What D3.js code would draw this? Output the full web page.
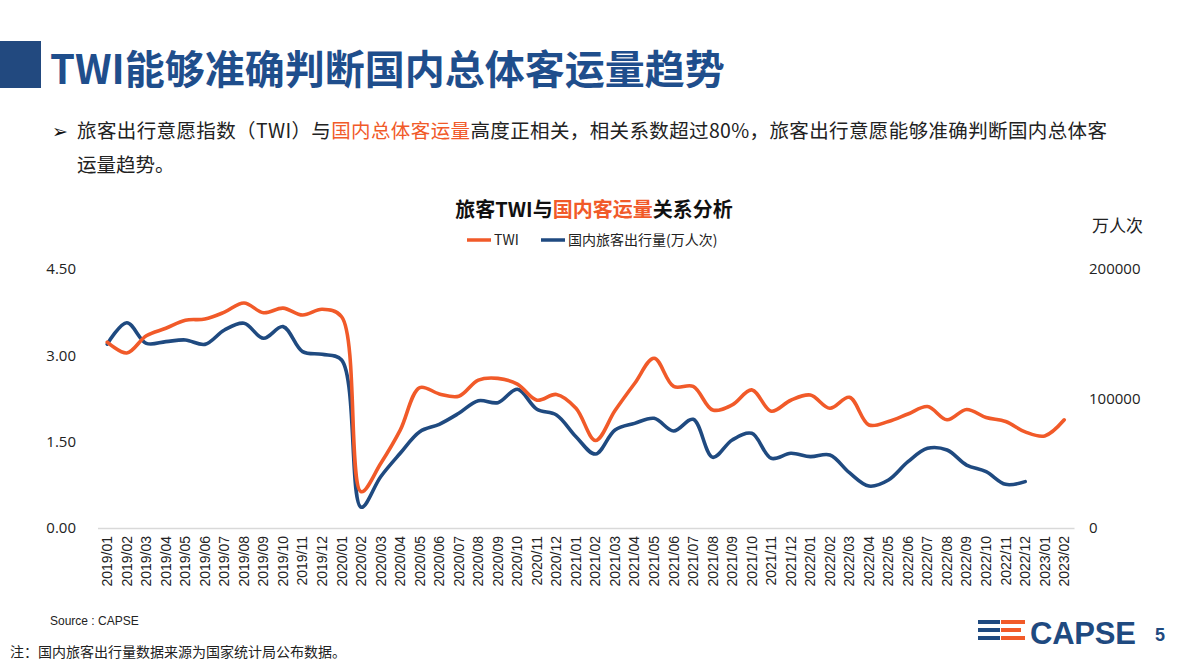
<!DOCTYPE html>
<html><head><meta charset="utf-8">
<script src="https://cdn.jsdelivr.net/npm/d3@7"></script>
<style>
html,body{margin:0;padding:0;background:#fff;}
svg{display:block;font-family:"Noto Sans","Noto Sans CJK SC",sans-serif;}
</style></head>
<body>
<svg id="c" width="1190" height="669"></svg>
<script>
const months = ["2019/01","2019/02","2019/03","2019/04","2019/05","2019/06","2019/07","2019/08","2019/09","2019/10","2019/11","2019/12",
"2020/01","2020/02","2020/03","2020/04","2020/05","2020/06","2020/07","2020/08","2020/09","2020/10","2020/11","2020/12",
"2021/01","2021/02","2021/03","2021/04","2021/05","2021/06","2021/07","2021/08","2021/09","2021/10","2021/11","2021/12",
"2022/01","2022/02","2022/03","2022/04","2022/05","2022/06","2022/07","2022/08","2022/09","2022/10","2022/11","2022/12",
"2023/01","2023/02"];
const twi = [3.23,3.04,3.34,3.47,3.61,3.63,3.75,3.91,3.74,3.82,3.70,3.80,
3.67,0.63,1.12,1.70,2.44,2.33,2.29,2.57,2.60,2.50,2.22,2.32,
2.08,1.52,2.04,2.51,2.95,2.46,2.46,2.05,2.14,2.40,2.03,2.22,
2.31,2.08,2.27,1.79,1.85,1.98,2.11,1.88,2.06,1.92,1.85,1.67,
1.60,1.88];
const passengers = [142000,158500,142600,143900,145200,141800,152900,158100,146500,155500,136200,134100,
129700,16000,39600,57700,74400,80100,88600,98300,96800,107100,91700,87300,
70500,57100,75700,80800,84700,74900,83900,54600,68000,73100,53800,57700,
55100,56400,42700,32400,37100,51200,61500,60200,48600,43500,33700,35800,
null,null];
const leftTicks = [0,1.5,3,4.5];
const rightTicks = [0,100000,200000];
const seriesNames = ["TWI","国内旅客出行量(万人次)"];

const ORANGE = "#F15A29", BLUE = "#1F4A80", TITLEBLUE = "#1F4E8C";
const svg = d3.select("#c");
const cjk = '"Noto Sans CJK SC","Noto Sans",sans-serif';

// header block
svg.append("rect").attr("x",0).attr("y",41).attr("width",41).attr("height",47).attr("fill","#22497F");
svg.append("text").attr("x",50).attr("y",84).attr("font-size",40).attr("font-weight",700)
  .attr("fill",TITLEBLUE).style("font-family",cjk).text("TWI能够准确判断国内总体客运量趋势");

// bullet text
svg.append("text").attr("x",52).attr("y",138).attr("font-size",19).attr("fill","#111").text("➢");
const t1 = svg.append("text").attr("x",77).attr("y",138).attr("font-size",19.5).attr("fill","#222").style("font-family",cjk).attr("textLength",1030).attr("lengthAdjust","spacing");
t1.append("tspan").text("旅客出行意愿指数（TWI）与");
t1.append("tspan").attr("fill",ORANGE).text("国内总体客运量");
t1.append("tspan").text("高度正相关，相关系数超过80%，旅客出行意愿能够准确判断国内总体客");
svg.append("text").attr("x",77).attr("y",172).attr("font-size",19.5).attr("fill","#222").style("font-family",cjk).text("运量趋势。");

// chart title
const ct = svg.append("text").attr("x",594).attr("y",217).attr("text-anchor","middle").attr("font-size",20)
  .attr("font-weight",700).attr("fill","#111").style("font-family",cjk);
ct.append("tspan").text("旅客TWI与");
ct.append("tspan").attr("fill",ORANGE).text("国内客运量");
ct.append("tspan").text("关系分析");

// legend
const lg = svg.append("g").style("font-family",cjk).attr("font-size",14).attr("fill","#222");
lg.append("line").attr("x1",467).attr("x2",491).attr("y1",240).attr("y2",240).attr("stroke",ORANGE).attr("stroke-width",3.5);
lg.append("text").attr("x",494).attr("y",245).text(seriesNames[0]);
lg.append("line").attr("x1",541).attr("x2",565).attr("y1",240).attr("y2",240).attr("stroke",BLUE).attr("stroke-width",3.5);
lg.append("text").attr("x",568).attr("y",245).text(seriesNames[1]);

svg.append("text").attr("x",1092).attr("y",232).attr("font-size",17).attr("fill","#222").style("font-family",cjk).text("万人次");

// scales
const x = d3.scaleBand().domain(months).range([97.5,1074]);
const yL = d3.scaleLinear().domain([0,4.5]).range([528,269]);
const yR = d3.scaleLinear().domain([0,200000]).range([528,269]);
const cx = d => x(d) + x.bandwidth()/2;

// axes
const axL = svg.append("g").attr("transform","translate(97,0)")
  .call(d3.axisLeft(yL).tickValues(leftTicks).tickFormat(d3.format(".2f")).tickSize(0).tickPadding(21));
axL.select(".domain").remove();
axL.selectAll("text").attr("font-size",15).attr("fill","#222").style("font-family",'"Open Sans","Noto Sans",sans-serif');

const axR = svg.append("g").attr("transform","translate(1074,0)")
  .call(d3.axisRight(yR).tickValues(rightTicks).tickFormat(d3.format("d")).tickSize(0).tickPadding(15));
axR.select(".domain").remove();
axR.selectAll("text").attr("font-size",15).attr("fill","#222").style("font-family",'"Open Sans","Noto Sans",sans-serif');

const axB = svg.append("g").attr("transform","translate(0,528)")
  .call(d3.axisBottom(x).tickSize(0).tickPadding(0));
axB.select(".domain").attr("stroke","#d9d9d9").attr("stroke-width",1.3);
axB.selectAll("text").attr("font-size",14).attr("fill","#222")
  .style("font-family",'"Liberation Sans",Arial,sans-serif')
  .attr("text-anchor","end").attr("dy","0.35em").attr("dx",0)
  .attr("transform","translate(0,8) rotate(-90)").attr("x",0).attr("y",0);

// lines
const lineL = d3.line().x((d,i)=>cx(months[i])).y(d=>yL(d)).curve(d3.curveCatmullRom.alpha(0.5));
const lineR = d3.line().defined(d=>d!==null).x((d,i)=>cx(months[i])).y(d=>yR(d)).curve(d3.curveCatmullRom.alpha(0.5));
svg.append("path").datum(passengers).attr("d",lineR).attr("fill","none").attr("stroke",BLUE).attr("stroke-width",3.6).attr("stroke-linejoin","round").attr("stroke-linecap","round");
svg.append("path").datum(twi).attr("d",lineL).attr("fill","none").attr("stroke",ORANGE).attr("stroke-width",3.6).attr("stroke-linejoin","round").attr("stroke-linecap","round");

// footer
svg.append("text").attr("x",50).attr("y",625).attr("font-size",12).attr("fill","#222")
  .style("font-family",'"Liberation Sans Narrow","Liberation Sans",Arial,sans-serif').text("Source : CAPSE");
svg.append("text").attr("x",10).attr("y",657).attr("font-size",14).attr("fill","#222").style("font-family",cjk)
  .text("注：国内旅客出行量数据来源为国家统计局公布数据。");

// logo
const logo = svg.append("g");
const stripes = [[978,620,22,BLUE],[1001,620,24,ORANGE],[978,628,22,BLUE],[1001,628,20,ORANGE],[978,636,22,BLUE],[1001,636,24,ORANGE]];
stripes.forEach(s=>logo.append("rect").attr("x",s[0]).attr("y",s[1]).attr("width",s[2]).attr("height",4).attr("fill",s[3]));
logo.append("text").attr("x",1030).attr("y",644).attr("font-size",31).attr("font-weight",700).attr("fill",BLUE)
  .style("font-family",'"Liberation Sans Narrow","Liberation Sans",Arial,sans-serif').attr("textLength",106).text("CAPSE");
logo.append("text").attr("x",1155).attr("y",641).attr("font-size",18).attr("font-weight",700).attr("fill",BLUE)
  .style("font-family",'"Liberation Sans",Arial,sans-serif').text("5");
</script>
</body></html>
